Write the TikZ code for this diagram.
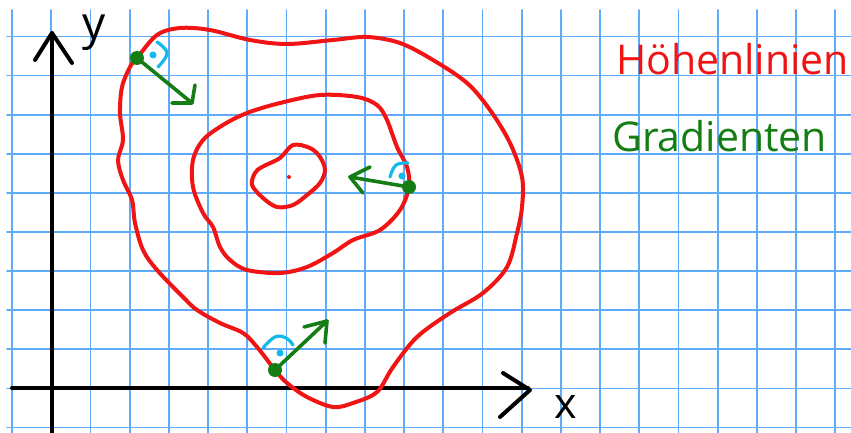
\documentclass[tikz,border=0pt]{standalone}
\usepackage{fontspec}
\setmainfont{Open Sans}
\definecolor{gridblue}{RGB}{95,170,250}
\definecolor{cred}{RGB}{240,20,20}
\definecolor{cgreen}{RGB}{20,125,20}
\definecolor{ccyan}{RGB}{20,185,235}
\begin{document}
\begin{tikzpicture}[x=1pt,y=-1pt, line cap=round, line join=round,
 gridline/.style={gridblue, line width=1.8pt},
 contour/.style={cred, line width=4pt},
 axisline/.style={black, line width=4pt},
 grad/.style={cgreen, line width=3.6pt},
 rightangle/.style={ccyan, line width=3.2pt},
 gdot/.style={circle, fill=cgreen, inner sep=0pt, minimum size=14pt},
 cdot/.style={circle, fill=ccyan, inner sep=0pt, minimum size=7pt},
 lbl/.style={inner sep=0pt, anchor=base west, font=\fontsize{41}{48}\selectfont}]
\useasboundingbox[fill=white] (0,0) rectangle (851,433);
% grid
\foreach \i in {0,...,21} \draw[gridline] (12+39.2*\i,10) -- (12+39.2*\i,433);
\foreach \j in {0,...,10} \draw[gridline] (7,36.5+39.1*\j) -- (851,36.5+39.1*\j);
% axes
\coordinate (yt) at (52,33);
\coordinate (yb) at (52,433);
\draw[axisline] (yb) -- (yt);
\draw[axisline] (yt) ++(-17,27) -- (yt) -- ++(20,30);
\coordinate (xl) at (12,388);
\coordinate (xt) at (528,388);
\draw[axisline] (xl) -- (xt);
\draw[axisline] (503,373) -- (530,390) -- (500,417);
\node[inner sep=0pt, anchor=base, font=\fontsize{46}{50}\selectfont] (ylab) at (94.5,40) {y};
\node[inner sep=0pt, anchor=base, font=\fontsize{43}{50}\selectfont] (xlab) at (566,418) {x};
% contours
\draw[contour] plot[smooth cycle, tension=0.55] coordinates {
 (137,58) (157,35) (180,28) (210,30) (250,40) (287,44) (333,40) (367,37)
 (400,43) (433,60) (467,83) (490,110) (510,143) (522,177) (522,207) (517,233)
 (507,267) (483,293) (450,313) (417,337) (393,367) (377,392) (353,403) (333,407)
 (307,397) (287,383) (275,370) (257,347) (243,333) (220,323) (197,310) (183,297)
 (157,270) (143,250) (135,223) (132,200) (123,180) (118,160) (123,140) (120,113)
 (122,87) (130,67)};
\draw[contour] plot[smooth cycle, tension=0.55] coordinates {
 (409,187) (400,210) (380,230) (353,240) (333,253) (307,267) (280,273) (247,270)
 (230,260) (220,247) (213,227) (203,213) (193,187) (193,160) (203,140) (223,125)
 (247,113) (280,103) (320,95) (357,97) (377,105) (387,120) (397,147) (407,167)};
\draw[contour] plot[smooth cycle, tension=0.55] coordinates {
 (293,145) (310,148) (320,157) (325,170) (320,183) (307,195) (293,205) (277,207)
 (263,198) (252,185) (255,173) (262,167) (280,158)};
\fill[cred] (289,177) circle (2pt);
% right-angle marks
\draw[rightangle] plot[smooth, tension=0.7] coordinates {(157,42) (167,53) (158,67)};
\node[cdot] (c1) at (153,55) {};
\draw[rightangle] plot[smooth, tension=0.7] coordinates {(390,177) (396,165) (408,163)};
\node[cdot] (c2) at (402,176) {};
\draw[rightangle] plot[smooth, tension=0.7] coordinates {(263,348) (275,337) (286,338) (293,345)};
\node[cdot] (c3) at (280,353) {};
% gradients
\node[gdot] (d1) at (137,58) {};
\coordinate (t1) at (192,103);
\draw[grad] (d1.center) -- (t1);
\draw[grad] (t1) ++(-20,0) -- (t1) -- ++(3,-18);
\node[gdot] (d2) at (409,187) {};
\coordinate (t2) at (350,177);
\draw[grad] (d2.center) -- (t2);
\draw[grad] (t2) ++(20,-10) -- (t2) -- ++(13,16);
\node[gdot] (d3) at (275,370) {};
\coordinate (t3) at (327,321);
\draw[grad] (d3.center) -- (t3);
\draw[grad] (t3) ++(-23,6) -- (t3) -- ++(-2,22);
% legend
\node[lbl, text=cred] (hl) at (616,75) {Höhenlinien};
\node[lbl, text=cgreen] (gr) at (612,152) {Gradienten};
\end{tikzpicture}
\end{document}
